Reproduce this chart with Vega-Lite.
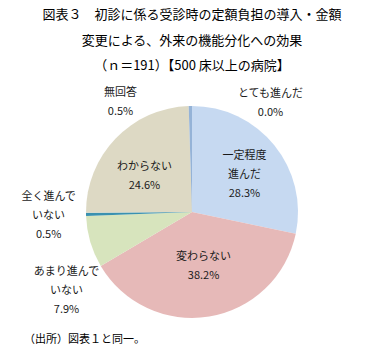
{
  "$schema": "https://vega.github.io/schema/vega-lite/v6.json",
  "padding": {"left": 21, "top": 9, "right": 3, "bottom": 0},
  "background": "white",
  "title": {
    "text": ["図表３　初診に係る受診時の定額負担の導入・金額", "変更による、外来の機能分化への効果", "（ｎ＝191）【500 床以上の病院】"],
    "font": "Noto Sans CJK JP",
    "fontSize": 13,
    "fontWeight": "normal",
    "lineHeight": 25.5,
    "color": "#000000",
    "anchor": "middle",
    "offset": 12
  },
  "vconcat": [
    {
      "width": 342,
      "height": 254,
      "title": {
        "text": "（出所）図表１と同一。",
        "orient": "bottom",
        "anchor": "start",
        "font": "Noto Sans CJK JP",
        "fontSize": 11,
        "fontWeight": "normal",
        "color": "#000000",
        "offset": -5,
        "dx": 3
      },
      "data": {
        "values": [
          {"category": "とても進んだ", "label": "とても進んだ\n0.0%", "value": 0.0, "rank": 1},
          {"category": "一定程度進んだ", "label": "一定程度\n進んだ\n28.3%", "value": 28.3, "rank": 2},
          {"category": "変わらない", "label": "変わらない\n38.2%", "value": 38.2, "rank": 3},
          {"category": "あまり進んでいない", "label": "あまり進んで\nいない\n7.9%", "value": 7.9, "rank": 4},
          {"category": "全く進んでいない", "label": "全く進んで\nいない\n0.5%", "value": 0.5, "rank": 5},
          {"category": "わからない", "label": "わからない\n24.6%", "value": 24.6, "rank": 6},
          {"category": "無回答", "label": "無回答\n0.5%", "value": 0.5, "rank": 7}
        ]
      },
      "transform": [
        {"stack": "value", "groupby": [], "sort": [{"field": "rank", "order": "ascending"}], "as": ["v0", "v1"]}
      ],
      "encoding": {
        "theta": {"field": "v0", "type": "quantitative", "scale": {"domain": [0, 100]}},
        "theta2": {"field": "v1"}
      },
      "layer": [
        {
          "mark": {"type": "arc", "radius": 106},
          "encoding": {
            "color": {
              "field": "category",
              "type": "nominal",
              "legend": null,
              "scale": {
                "domain": ["とても進んだ", "一定程度進んだ", "変わらない", "あまり進んでいない", "全く進んでいない", "わからない", "無回答"],
                "range": ["#4f81bd", "#c6d9f1", "#e6b9b8", "#d7e4bd", "#3a91b0", "#ddd9c4", "#95b3d7"]
              }
            }
          }
        },
        {
          "transform": [{"filter": "datum.category === '一定程度進んだ'"}],
          "mark": {"type": "text", "radius": 38, "dx": 52.5, "dy": -18},
          "encoding": {"text": {"field": "label", "type": "nominal"}}
        },
        {
          "transform": [{"filter": "datum.category === '変わらない'"}],
          "mark": {"type": "text", "radius": 16.7, "dx": -4.8, "dy": 41.6},
          "encoding": {"text": {"field": "label", "type": "nominal"}}
        },
        {
          "transform": [{"filter": "datum.category === 'わからない'"}],
          "mark": {"type": "text", "radius": 48.5, "dx": 1, "dy": -45.8},
          "encoding": {"text": {"field": "label", "type": "nominal"}}
        },
        {
          "transform": [{"filter": "datum.category === '無回答'"}],
          "mark": {"type": "text", "radius": 113.7, "dx": -67.9, "dy": -4.9},
          "encoding": {"text": {"field": "label", "type": "nominal"}}
        },
        {
          "transform": [{"filter": "datum.category === 'とても進んだ'"}],
          "mark": {"type": "text", "radius": 111.5, "dx": 78.5, "dy": -7},
          "encoding": {"text": {"field": "label", "type": "nominal"}}
        },
        {
          "transform": [{"filter": "datum.category === '全く進んでいない'"}],
          "mark": {"type": "text", "radius": 143.5, "dy": -20.9},
          "encoding": {"text": {"field": "label", "type": "nominal"}}
        },
        {
          "transform": [{"filter": "datum.category === 'あまり進んでいない'"}],
          "mark": {"type": "text", "radius": 146.7, "dx": 0.8, "dy": -14.7},
          "encoding": {"text": {"field": "label", "type": "nominal"}}
        }
      ]
    }
  ],
  "config": {
    "view": {"stroke": null},
    "text": {
      "font": "Noto Sans CJK JP",
      "fontSize": 11,
      "lineBreak": "\n",
      "lineHeight": 19,
      "color": "#1a1a1a",
      "align": "center",
      "baseline": "middle"
    }
  }
}
